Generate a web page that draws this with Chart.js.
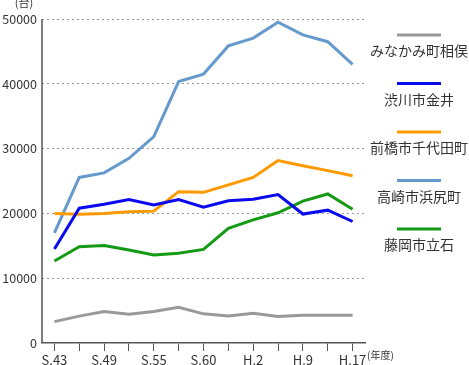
<!DOCTYPE html>
<html>
<head>
<meta charset="utf-8">
<script src="https://cdn.jsdelivr.net/npm/chart.js@4"></script>
<style>
  html, body { margin: 0; padding: 0; background: #fff; }
  canvas { display: block; }
</style>
</head>
<body>
<canvas id="trafficChart" width="469" height="365"></canvas>
<script>
// 13 survey years, only every other one labelled
const tickLabels = ['S.43', '', 'S.49', '', 'S.55', '', 'S.60', '', 'H.2', '', 'H.9', '', 'H.17'];

const seriesNames = ['みなかみ町相俣', '渋川市金井', '前橋市千代田町', '高崎市浜尻町', '藤岡市立石'];
const seriesColors = ['#999999', '#0a0aee', '#ff9900', '#6699cc', '#159a15'];

const minakami = [3300, 4150, 4850, 4450, 4850, 5500, 4500, 4150, 4600, 4100, 4300, 4300, 4300];
const shibukawa = [14500, 20800, 21400, 22150, 21300, 22150, 20950, 21950, 22200, 22900, 19900, 20500, 18750];
const maebashi = [20000, 19850, 20000, 20250, 20350, 23350, 23250, 24400, 25550, 28150, 27350, 26600, 25800];
const takasaki = [17000, 25550, 26250, 28500, 31850, 40350, 41500, 45850, 47050, 49500, 47550, 46500, 43000];
const fujioka = [12650, 14850, 15050, 14350, 13600, 13850, 14450, 17700, 19000, 20100, 21900, 23000, 20650];

const seriesValues = [minakami, shibukawa, maebashi, takasaki, fujioka];

const yMax = 50000;
const yStep = 10000;

const textColor = '#333333';
const axisColor = '#555555';
const fontFamily = '"Noto Sans CJK JP", "Noto Sans", sans-serif';

const extraText = {
    id: 'extraText',
    afterDraw(chart) {
        const ctx = chart.ctx;
        ctx.save();
        ctx.fillStyle = textColor;

        // unit labels
        ctx.font = '11px ' + fontFamily;
        ctx.textAlign = 'center';
        ctx.textBaseline = 'middle';
        ctx.fillText('(台)', 24, 3);
        ctx.textAlign = 'left';
        ctx.font = '10px ' + fontFamily;
        ctx.fillText('(年度)', 367, 355);

        // legend: line above centered name
        chart.data.datasets.forEach((ds, i) => {
            const y = 35 + i * 48.5;
            ctx.strokeStyle = ds.borderColor;
            ctx.lineWidth = 3;
            ctx.beginPath();
            ctx.moveTo(397, y);
            ctx.lineTo(441, y);
            ctx.stroke();
            ctx.font = '14px ' + fontFamily;
            ctx.textAlign = 'center';
            ctx.fillStyle = textColor;
            ctx.fillText(ds.label, 419, y + 16);
        });
        ctx.restore();
    }
};

// solid axis lines, drawn over the dashed grid
const axisLines = {
    id: 'axisLines',
    afterDatasetsDraw(chart) {
        const { ctx, chartArea } = chart;
        ctx.save();
        ctx.strokeStyle = axisColor;
        ctx.lineWidth = 1.5;
        ctx.beginPath();
        ctx.moveTo(chartArea.left, chartArea.top);
        ctx.lineTo(chartArea.left, chartArea.bottom);
        ctx.stroke();
        ctx.restore();
    }
};

const ctx = document.getElementById('trafficChart').getContext('2d');

new Chart(ctx, {
    type: 'line',
    data: {
        labels: tickLabels,
        datasets: seriesNames.map((name, i) => ({
            label: name,
            data: seriesValues[i],
            borderColor: seriesColors[i],
            backgroundColor: seriesColors[i],
            borderWidth: 3,
            pointRadius: 0,
            tension: 0,
            fill: false
        }))
    },
    options: {
        responsive: false,
        animation: false,
        devicePixelRatio: 1,
        layout: {
            padding: { top: 19, right: 104, left: 0, bottom: 0 }
        },
        scales: {
            x: {
                offset: true,
                grid: {
                    drawOnChartArea: false,
                    drawTicks: true,
                    tickLength: 8,
                    color: axisColor
                },
                border: { display: true, color: axisColor, width: 1.5 },
                ticks: {
                    autoSkip: false,
                    maxRotation: 0,
                    padding: 1,
                    color: textColor,
                    font: { family: fontFamily, size: 13 }
                },
                afterFit: scale => { scale.height = 22; }
            },
            y: {
                min: 0,
                max: yMax,
                ticks: {
                    stepSize: yStep,
                    padding: 5,
                    color: textColor,
                    font: { family: fontFamily, size: 12.5 },
                    callback: v => String(v)
                },
                grid: {
                    drawTicks: false,
                    lineWidth: 1,
                    color: c => c.tick && c.tick.value === 0 ? 'rgba(0,0,0,0)' : '#999999'
                },
                border: { display: false, dash: [2, 3] },
                afterFit: scale => { scale.width = 42; }
            }
        },
        plugins: {
            legend: { display: false },
            tooltip: { enabled: false }
        }
    },
    plugins: [extraText, axisLines]
});
</script>
</body>
</html>
